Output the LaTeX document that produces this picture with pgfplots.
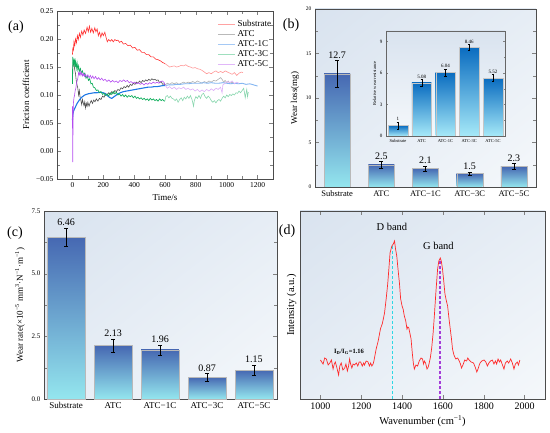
\documentclass[border=0pt]{standalone}
\usepackage{fontspec}
\setmainfont{Liberation Serif}
\usepackage{pgfplots}
\usetikzlibrary{shadings}
\pgfplotsset{compat=1.18}
\definecolor{cSub}{HTML}{FF3030}
\definecolor{cATC}{HTML}{505050}
\definecolor{c1C}{HTML}{1E78E6}
\definecolor{c3C}{HTML}{0FAE5C}
\definecolor{c5C}{HTML}{B44CF0}
\definecolor{bartop}{HTML}{4668B2}
\definecolor{barbot}{HTML}{94E6EE}
\definecolor{intop}{HTML}{0A6CC0}
\definecolor{inbot}{HTML}{A6E9F8}
\definecolor{bgA}{HTML}{D9E3EF}
\definecolor{bgB}{HTML}{E6EDF5}
\definecolor{bgC}{HTML}{F5F8FB}
\definecolor{ramanred}{HTML}{FF2A2A}
\definecolor{dcyan}{HTML}{2ED8E4}
\definecolor{dpurple}{HTML}{A43CD8}
\pgfplotsset{
  /pgf/number format/assume math mode=true,
  /pgf/number format/1000 sep={},
  myerr/.style={draw=none, mark=none, forget plot,
    error bars/.cd, y dir=both, y explicit,
    error bar style={draw=black, line width=0.6pt},
    error mark options={rotate=90, draw=black, mark size=2pt, line width=0.6pt}},
  bgshade/.style={axis background/.style={shade, upper left=bgA, upper right=bgB, lower left=bgB, lower right=bgC}},
  bbar/.style={ybar, bar width=#1, bar shift=0pt, draw=gray!55, line width=0.3pt, shade, top color=bartop, bottom color=barbot, forget plot},
  ibar/.style={ybar, bar width=0.82, bar shift=0pt, draw=gray!45, line width=0.3pt, shade, top color=intop, bottom color=inbot, forget plot},
}
\begin{document}
\begin{tikzpicture}
\path[use as bounding box] (0pt,0pt) rectangle (550pt,432pt);
% ---------------- (a) ----------------
\begin{axis}[at={(57pt,253pt)}, anchor=south west, scale only axis,
  width=216pt, height=168pt,
  xmin=-100, xmax=1300, ymin=-0.05, ymax=0.25,
  xtick={0,200,...,1200},
  ytick={-0.05,0,0.05,0.1,0.15,0.2,0.25},
  yticklabels={−0.05,0.00,0.05,0.10,0.15,0.20,0.25},
  minor x tick num=1, minor y tick num=1, tick align=inside,
  tick label style={font=\fontsize{7.5}{8}\selectfont},
  xlabel={Time/s}, ylabel={Friction coefficient},
  label style={font=\fontsize{9}{10}\selectfont},
  axis line style={black!70},
  legend style={draw=none, fill=none, font=\fontsize{9}{9}\selectfont,
    at={(rel axis cs:0.73,0.97)}, anchor=north west, row sep=-1.5pt},
  legend cell align=left,
]
\addlegendimage{cSub!45, line width=0.6pt}\addlegendentry{Substrate}
\addlegendimage{cATC!40, line width=0.6pt}\addlegendentry{ATC}
\addlegendimage{c1C!40, line width=0.6pt}\addlegendentry{ATC-1C}
\addlegendimage{c3C!40, line width=0.6pt}\addlegendentry{ATC-3C}
\addlegendimage{c5C!40, line width=0.6pt}\addlegendentry{ATC-5C}
% Substrate
\addplot[cSub, line width=0.6pt, forget plot] coordinates {(0,0.172) (3,0.185) (6,0.178) (10,0.195) (15,0.188) (20,0.200) (26,0.193) (32,0.206) (38,0.199) (45,0.210) (52,0.203) (60,0.214) (68,0.207) (76,0.216) (85,0.210) (95,0.221) (103,0.213) (110,0.223) (118,0.212) (126,0.219) (135,0.211) (145,0.220) (152,0.213) (160,0.218) (168,0.206) (176,0.212) (184,0.203) (192,0.211) (200,0.206) (210,0.212) (218,0.203) (226,0.195) (235,0.199) (245,0.196) (255,0.199) (265,0.195) (275,0.199) (285,0.197) (295,0.198) (305,0.194) (318,0.196) (330,0.191) (345,0.192) (360,0.188) (375,0.189) (390,0.184) (405,0.185) (420,0.180) (435,0.181) (450,0.176) (465,0.176) (480,0.172) (495,0.172) (510,0.168) (525,0.168) (540,0.164) (555,0.163) (570,0.161) (585,0.158) (600,0.156)};
\addplot[cSub!50, line width=0.6pt, forget plot] coordinates {(600,0.156) (615,0.153) (630,0.150) (645,0.151) (660,0.152) (675,0.150) (690,0.151) (705,0.153) (720,0.152) (735,0.154) (750,0.151) (765,0.150) (780,0.148) (795,0.149) (810,0.147) (825,0.146) (840,0.144) (855,0.141) (870,0.138) (885,0.140) (900,0.138) (915,0.141) (930,0.143) (945,0.140) (960,0.142) (975,0.140) (990,0.143) (1005,0.141) (1020,0.139) (1035,0.137) (1050,0.140) (1065,0.135) (1080,0.139) (1095,0.141) (1105,0.140)};
% ATC
\addplot[cATC, line width=0.6pt, forget plot] coordinates {(0,0.120) (3,0.150) (6,0.160) (10,0.155) (15,0.145) (20,0.138) (25,0.125) (30,0.118) (35,0.112) (40,0.100) (45,0.108) (50,0.095) (55,0.090) (60,0.083) (65,0.092) (70,0.086) (75,0.081) (80,0.088) (85,0.077) (90,0.085) (95,0.080) (100,0.087) (108,0.080) (115,0.086) (122,0.090) (130,0.085) (138,0.091) (146,0.088) (155,0.093) (165,0.089) (175,0.094) (185,0.092) (195,0.098) (205,0.096) (215,0.103) (225,0.100) (235,0.104) (245,0.101) (255,0.106) (265,0.103) (275,0.108) (285,0.106) (295,0.110) (305,0.108) (315,0.113) (325,0.111) (335,0.115) (345,0.113) (355,0.117) (365,0.114) (375,0.119) (385,0.117) (395,0.121) (405,0.119) (415,0.123) (425,0.121) (435,0.125) (445,0.122) (455,0.126) (465,0.124) (475,0.127) (485,0.125) (495,0.128) (505,0.126) (515,0.129) (525,0.127) (535,0.128) (545,0.126) (555,0.127) (565,0.122) (575,0.124) (585,0.119) (595,0.120) (600,0.118)};
\addplot[cATC!45, line width=0.6pt, forget plot] coordinates {(600,0.118) (615,0.121) (630,0.119) (645,0.122) (660,0.120) (675,0.122) (690,0.119) (705,0.121) (720,0.123) (735,0.121) (750,0.123) (765,0.122) (780,0.124) (795,0.122) (810,0.125) (825,0.123) (840,0.121) (855,0.124) (870,0.122) (885,0.125) (900,0.123) (915,0.126) (930,0.125) (945,0.128) (960,0.131) (970,0.128) (980,0.123) (990,0.126) (1000,0.122) (1010,0.125) (1020,0.121) (1035,0.123) (1050,0.120)};
% ATC-1C
\addplot[c1C, line width=1.1pt, forget plot] coordinates {(0,0.055) (3,0.065) (6,0.070) (10,0.073) (15,0.076) (20,0.079) (25,0.082) (30,0.085) (40,0.089) (50,0.093) (60,0.096) (70,0.098) (80,0.100) (90,0.101) (100,0.102) (120,0.103) (140,0.104) (160,0.104) (180,0.105) (200,0.104) (215,0.102) (225,0.099) (235,0.097) (245,0.095) (255,0.094) (265,0.096) (280,0.099) (295,0.102) (310,0.104) (330,0.106) (350,0.107) (370,0.108) (390,0.109) (410,0.110) (430,0.111) (450,0.112) (470,0.113) (490,0.114) (510,0.114) (530,0.115) (550,0.115) (570,0.116) (590,0.117) (600,0.117)};
\addplot[c1C!55, line width=0.9pt, forget plot] coordinates {(600,0.117) (625,0.118) (650,0.118) (675,0.119) (700,0.119) (725,0.120) (750,0.120) (775,0.121) (800,0.121) (825,0.121) (850,0.122) (875,0.121) (900,0.122) (925,0.121) (950,0.121) (975,0.122) (1000,0.121) (1025,0.120) (1050,0.121) (1075,0.120) (1100,0.121) (1125,0.119) (1150,0.120) (1175,0.118) (1200,0.116)};
% ATC-3C
\addplot[c3C, line width=0.7pt, forget plot] coordinates {(0,0.120) (2,0.168) (5,0.160) (8,0.155) (12,0.165) (16,0.150) (20,0.160) (25,0.148) (30,0.158) (35,0.145) (40,0.152) (45,0.142) (52,0.147) (58,0.139) (65,0.143) (72,0.136) (80,0.139) (88,0.130) (96,0.134) (104,0.126) (112,0.129) (120,0.120) (128,0.121) (136,0.114) (145,0.113) (155,0.108) (165,0.109) (175,0.104) (185,0.106) (195,0.101) (205,0.103) (215,0.099) (225,0.102) (235,0.098) (245,0.104) (255,0.101) (265,0.106) (275,0.102) (285,0.105) (295,0.100) (305,0.102) (315,0.098) (325,0.101) (335,0.097) (345,0.100) (355,0.096) (365,0.099) (375,0.097) (385,0.099) (395,0.095) (405,0.098) (415,0.094) (425,0.096) (435,0.093) (445,0.095) (455,0.092) (465,0.094) (475,0.091) (485,0.093) (495,0.090) (505,0.094) (515,0.091) (525,0.093) (535,0.090) (545,0.092) (555,0.089) (565,0.093) (575,0.090) (585,0.092) (595,0.089) (600,0.090)};
\addplot[c3C!50, line width=0.6pt, forget plot] coordinates {(600,0.090) (605,0.097) (615,0.099) (625,0.095) (635,0.098) (645,0.094) (655,0.093) (665,0.090) (675,0.093) (685,0.087) (695,0.092) (705,0.095) (715,0.090) (725,0.096) (735,0.093) (745,0.098) (755,0.094) (765,0.099) (775,0.092) (785,0.080) (790,0.090) (800,0.097) (810,0.094) (820,0.099) (830,0.094) (840,0.101) (850,0.103) (860,0.097) (870,0.094) (880,0.098) (890,0.095) (900,0.090) (910,0.087) (920,0.090) (930,0.086) (940,0.090) (950,0.092) (960,0.089) (970,0.094) (980,0.098) (990,0.095) (1000,0.100) (1010,0.097) (1020,0.101) (1030,0.099) (1040,0.102) (1050,0.100) (1060,0.104) (1070,0.103) (1080,0.107) (1090,0.104) (1100,0.108) (1110,0.112) (1115,0.104) (1120,0.095) (1125,0.103) (1130,0.110) (1135,0.097) (1140,0.105)};
% ATC-5C
\addplot[c5C, line width=0.6pt, forget plot] coordinates {(0,0.080) (2,-0.020) (4,0.050) (6,0.085) (10,0.095) (14,0.100) (18,0.108) (22,0.112) (26,0.120) (30,0.125) (35,0.130) (40,0.140) (45,0.136) (50,0.142) (55,0.135) (60,0.140) (66,0.134) (72,0.138) (78,0.133) (85,0.137) (92,0.132) (100,0.136) (108,0.131) (116,0.135) (124,0.130) (132,0.134) (140,0.129) (150,0.133) (160,0.128) (170,0.131) (180,0.127) (190,0.130) (200,0.126) (212,0.128) (224,0.124) (236,0.127) (248,0.123) (260,0.126) (272,0.123) (284,0.125) (296,0.122) (308,0.126) (320,0.124) (332,0.127) (344,0.124) (356,0.126) (368,0.122) (380,0.124) (392,0.121) (404,0.123) (416,0.120) (428,0.122) (440,0.119) (452,0.121) (464,0.118) (476,0.121) (488,0.119) (500,0.122) (512,0.120) (524,0.123) (536,0.121) (548,0.123) (560,0.121) (572,0.124) (584,0.125) (595,0.122) (600,0.118)};
\addplot[c5C!45, line width=0.6pt, forget plot] coordinates {(600,0.118) (615,0.112) (630,0.115) (645,0.111) (660,0.114) (675,0.110) (690,0.113) (705,0.111) (720,0.114) (735,0.110) (750,0.112) (765,0.109) (780,0.111) (795,0.107) (810,0.110) (825,0.106) (840,0.109) (855,0.106) (870,0.110) (885,0.107) (900,0.111) (915,0.108) (930,0.112) (945,0.110) (960,0.114) (970,0.104) (975,0.118) (990,0.121) (1005,0.124) (1020,0.122) (1035,0.125) (1050,0.120) (1065,0.123) (1080,0.121)};
\end{axis}
\node[font=\fontsize{14}{14}\selectfont] at (16pt,405pt) {(a)};
% ---------------- (b) ----------------
\begin{axis}[at={(315pt,245pt)}, anchor=south west, scale only axis,
  width=221pt, height=178pt, bgshade,
  xmin=-0.5, xmax=4.5, ymin=0, ymax=20,
  xtick={0,1,2,3,4}, xticklabels={Substrate,ATC,ATC−1C,ATC−3C,ATC−5C},
  x tick style={draw=none},
  ytick={0,5,10,15,20}, minor y tick num=1, tick align=inside,
  y tick label style={font=\fontsize{5.5}{6}\selectfont},
  x tick label style={font=\fontsize{8.5}{9}\selectfont},
  ylabel={Wear loss(mg)}, ylabel style={font=\fontsize{9}{10}\selectfont},
  axis line style={black!70},
]
\addplot[bbar=0.59] coordinates {(0,12.7)};
\addplot[bbar=0.59] coordinates {(1,2.5)};
\addplot[bbar=0.59] coordinates {(2,2.1)};
\addplot[bbar=0.59] coordinates {(3,1.5)};
\addplot[bbar=0.59] coordinates {(4,2.3)};
\addplot[myerr] coordinates {(0,12.7) +- (0,1.5) (1,2.5) +- (0,0.35) (2,2.1) +- (0,0.28) (3,1.5) +- (0,0.2) (4,2.3) +- (0,0.35)};
\node[font=\fontsize{10}{10}\selectfont, above, inner sep=2pt] at (axis cs:0,14.2) {12.7};
\node[font=\fontsize{10}{10}\selectfont, above, inner sep=2pt] at (axis cs:1,2.85) {2.5};
\node[font=\fontsize{10}{10}\selectfont, above, inner sep=2pt] at (axis cs:2,2.38) {2.1};
\node[font=\fontsize{10}{10}\selectfont, above, inner sep=2pt] at (axis cs:3,1.7) {1.5};
\node[font=\fontsize{10}{10}\selectfont, above, inner sep=2pt] at (axis cs:4,2.65) {2.3};
\end{axis}
\node[font=\fontsize{14}{14}\selectfont] at (291pt,407pt) {(b)};
% inset
\begin{axis}[at={(386pt,296pt)}, anchor=south west, scale only axis,
  width=119pt, height=105pt,
  axis background/.style={shade, top color=bgA, bottom color=bgC},
  xmin=-0.5, xmax=4.5, ymin=0, ymax=10,
  xtick={0,1,2,3,4}, xticklabels={Substrate,ATC,ATC-1C,ATC-3C,ATC-5C},
  x tick style={draw=none},
  ytick={0,3,6,9}, minor y tick num=1, tick align=inside,
  major tick length=2pt, minor tick length=1pt,
  y tick label style={font=\fontsize{5}{5}\selectfont},
  x tick label style={font=\fontsize{4.5}{5}\selectfont},
  ylabel={Relative wear resistance}, ylabel style={font=\fontsize{4.5}{5}\selectfont, yshift=-3pt},
  axis line style={black!60},
]
\addplot[ibar] coordinates {(0,1)};
\addplot[ibar] coordinates {(1,5.08)};
\addplot[ibar] coordinates {(2,6.04)};
\addplot[ibar] coordinates {(3,8.46)};
\addplot[ibar] coordinates {(4,5.52)};
\addplot[draw=none, mark=none, forget plot, error bars/.cd, y dir=both, y explicit,
    error bar style={draw=black, line width=0.4pt},
    error mark options={rotate=90, draw=black, mark size=1.2pt, line width=0.4pt}]
  coordinates {(0,1) +- (0,0.32) (1,5.08) +- (0,0.3) (2,6.04) +- (0,0.33) (3,8.46) +- (0,0.27) (4,5.52) +- (0,0.32)};
\node[font=\fontsize{5}{5}\selectfont, above, inner sep=1pt] at (axis cs:0,1.32) {1};
\node[font=\fontsize{5}{5}\selectfont, above, inner sep=1pt] at (axis cs:1,5.38) {5.08};
\node[font=\fontsize{5}{5}\selectfont, above, inner sep=1pt] at (axis cs:2,6.37) {6.04};
\node[font=\fontsize{5}{5}\selectfont, above, inner sep=1pt] at (axis cs:3,8.73) {8.46};
\node[font=\fontsize{5}{5}\selectfont, above, inner sep=1pt] at (axis cs:4,5.84) {5.52};
\end{axis}
% ---------------- (c) ----------------
\begin{axis}[at={(44pt,33pt)}, anchor=south west, scale only axis,
  width=233pt, height=188pt, bgshade,
  xmin=-0.47, xmax=4.49, ymin=0, ymax=7.5,
  xtick={0,1,2,3,4}, xticklabels={Substrate,ATC,ATC−1C,ATC−3C,ATC−5C},
  x tick style={draw=none},
  ytick={0,2.5,5,7.5}, yticklabels={0.0,2.5,5.0,7.5}, minor y tick num=1, tick align=inside,
  y tick label style={font=\fontsize{7}{7}\selectfont},
  x tick label style={font=\fontsize{9}{9}\selectfont},
  ylabel={Wear rate(×10\textsuperscript{−5} mm\textsuperscript{3}·N\textsuperscript{−1}·m\textsuperscript{−1})},
  ylabel style={font=\fontsize{9}{10}\selectfont},
  axis line style={black!70},
]
\addplot[bbar=0.8] coordinates {(0,6.46)};
\addplot[bbar=0.8] coordinates {(1,2.13)};
\addplot[bbar=0.8] coordinates {(2,1.96)};
\addplot[bbar=0.8] coordinates {(3,0.87)};
\addplot[bbar=0.8] coordinates {(4,1.15)};
\addplot[myerr] coordinates {(0,6.46) +- (0,0.35) (1,2.13) +- (0,0.27) (2,1.96) +- (0,0.2) (3,0.87) +- (0,0.15) (4,1.15) +- (0,0.2)};
\node[font=\fontsize{10}{10}\selectfont, above, inner sep=2pt] at (axis cs:0,6.81) {6.46};
\node[font=\fontsize{10}{10}\selectfont, above, inner sep=2pt] at (axis cs:1,2.40) {2.13};
\node[font=\fontsize{10}{10}\selectfont, above, inner sep=2pt] at (axis cs:2,2.16) {1.96};
\node[font=\fontsize{10}{10}\selectfont, above, inner sep=2pt] at (axis cs:3,1.02) {0.87};
\node[font=\fontsize{10}{10}\selectfont, above, inner sep=2pt] at (axis cs:4,1.35) {1.15};
\end{axis}
\node[font=\fontsize{14}{14}\selectfont] at (15pt,199pt) {(c)};
% ---------------- (d) ----------------
\begin{axis}[at={(300pt,33pt)}, anchor=south west, scale only axis,
  width=245pt, height=188pt, bgshade,
  xmin=900, xmax=2100, ymin=0, ymax=188,
  xtick={1000,1200,...,2000}, ytick=\empty, tick align=inside,
  x tick label style={font=\fontsize{10}{10}\selectfont},
  xlabel={Wavenumber (cm\textsuperscript{−1})}, ylabel={Intensity (a.u.)},
  label style={font=\fontsize{10.5}{11}\selectfont},
  axis line style={black!70},
]
\addplot[dcyan, line width=1.4pt, dash pattern=on 3pt off 2pt] coordinates {(1353,0) (1353,155)};
\addplot[dpurple, line width=1.4pt, dash pattern=on 3pt off 2pt] coordinates {(1585,0) (1585,140)};
\addplot[ramanred, line width=0.7pt] coordinates {(1000,39) (1013,35) (1021,41) (1029,40) (1038,34) (1046,36) (1054,39) (1062,30) (1068,35) (1073,37) (1081,31) (1089,24) (1095,33) (1102,36) (1110,29) (1119,31) (1125,35) (1132,28) (1138,33) (1143,40) (1148,35) (1154,31) (1160,35) (1167,34) (1176,36) (1183,33) (1190,37) (1197,37) (1205,33) (1212,36) (1216,34) (1224,38) (1233,37) (1240,33) (1246,36) (1252,33) (1258,35) (1262,38) (1273,50) (1283,58) (1294,70) (1304,76) (1314,86) (1322,100) (1330,116) (1336,132) (1341,146) (1346,150) (1350,153) (1357,155) (1363,158) (1368,150) (1374,143) (1380,130) (1387,116) (1393,100) (1400,93) (1405,90) (1411,83) (1418,78) (1424,70) (1428,72) (1433,71) (1438,66) (1444,60) (1450,46) (1455,36) (1460,30) (1468,34) (1476,33) (1484,38) (1493,41) (1500,40) (1505,35) (1509,38) (1515,36) (1522,30) (1528,32) (1533,36) (1539,42) (1545,51) (1552,66) (1558,83) (1566,108) (1574,130) (1580,138) (1587,141) (1592,138) (1598,130) (1604,118) (1610,105) (1616,99) (1623,93) (1630,80) (1636,70) (1642,60) (1647,50) (1654,44) (1663,40) (1672,41) (1680,38) (1686,35) (1691,31) (1698,34) (1707,39) (1716,38) (1722,41) (1728,39) (1738,37) (1750,36) (1758,32) (1766,27) (1772,30) (1778,34) (1782,36) (1790,38) (1802,39) (1810,37) (1818,33) (1825,36) (1833,38) (1842,39) (1850,35) (1857,38) (1863,35) (1870,40) (1877,37) (1883,39) (1890,35) (1899,30) (1906,36) (1915,38) (1922,36) (1932,40) (1940,36) (1948,30) (1955,35) (1964,37) (1970,34) (1977,39)};
\node[font=\fontsize{10.5}{11}\selectfont] at (axis cs:1350,172) {D band};
\node[font=\fontsize{10.5}{11}\selectfont] at (axis cs:1578,153) {G band};
\node[font=\bfseries\fontsize{6.5}{7}\selectfont] at (axis cs:1140,47) {I\textsubscript{D}/I\textsubscript{G}=1.16};
\end{axis}
\node[font=\fontsize{14}{14}\selectfont] at (287pt,201pt) {(d)};
\end{tikzpicture}
\end{document}
